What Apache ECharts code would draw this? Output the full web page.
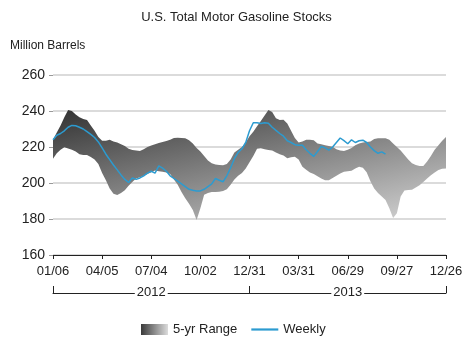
<!DOCTYPE html>
<html><head><meta charset="utf-8">
<script src="https://cdn.jsdelivr.net/npm/echarts@6/dist/echarts.min.js"></script>
<style>html,body{margin:0;padding:0;background:#fff}#c{width:473px;height:347px}</style>
</head><body><div id="c"></div>
<script>
const titleText = 'U.S. Total Motor Gasoline Stocks';
const unitText = 'Million Barrels';
const tickLabels = ['01/06','04/05','07/04','10/02','12/31','03/31','06/29','09/27','12/26'];
const years = ['2012','2013'];
const rangeUpper = [224,228,232,236.5,240.5,240,238,236.5,235.5,235,
 232,229,225.5,223.5,223.5,224,223,222.5,221.5,220.5,
 219,218.3,218,217.8,218.7,220,220.8,221.5,222.2,222.8,
 223.3,224,225,225.2,225,224.8,223.8,222,219.5,217.5,
 215,212.5,211,210.3,210,209.8,210.5,213,217,218.5,
 220,222.5,226,228.5,231.5,234.5,237.5,240.5,239.5,236,
 235,235.2,233,229,225,222.5,223,224,224,223.8,
 222,221.5,221,220.5,220.2,218.8,218,217.8,218.5,219.5,
 221,222,222.5,222.8,223,224.5,224.8,224.8,224.8,224,
 222,220,218,215.5,213,211,210,209.4,209.5,212,
 215,218.5,221,223.5,225.5];
const rangeLower = [213.5,216.5,218.5,219.8,219.2,218.5,217.5,216,215.6,215.6,
 214.5,213,210.5,205.5,201.5,197,194,193.3,194.5,196,
 198.5,200.5,202.5,203.2,204,205,206,207,206.5,206.2,
 205.8,205,202,199,195,191.5,188.5,185,179.5,186,
 193.5,194.5,195,195,195.2,195.5,196.5,199,202,204,
 205.5,208,211.5,215,219,219.3,218.7,218.3,218,217,
 216,215.3,213.7,214.3,214.6,213,209,207.3,205.8,205,
 203.8,202.5,201.5,201.5,202.8,204,205.3,206.2,206.5,206.8,
 208,209,208.5,206,201,197,194.5,192.5,190.6,186,
 180.5,183.2,192.5,195.8,196.1,196.2,197.5,198.8,200.5,202.5,
 204.3,205.8,207.2,207.9,208];
const weekly = [224,226.5,227.5,229,231,232,231.8,231,230,228.5,
 227,225.3,222.8,219.5,216,213,210,207.3,204.5,202,
 200.3,202.8,202,202.8,204,205.5,206.5,205.5,209.5,208.3,
 206.5,204,202.5,201,199.5,198,196.5,196,195.6,195.6,
 196.5,198,199.5,202.5,201.5,200.7,204,208.5,213.5,217,
 219,222.5,229,233.5,233.5,233,233.5,233.2,231,229.2,
 227.5,226,223.5,222.5,221.3,221,221,218.5,216.5,214.8,
 217.5,220.3,219.5,218.3,220,222.5,225,223.5,221.8,224,
 222.5,223.5,223.8,222.5,220,218,216.5,217.3,216];

const FONT = '"Liberation Sans", Arial, sans-serif';
const chart = echarts.init(document.getElementById('c'), null, {renderer:'canvas'});
const weekIdx = rangeUpper.map((v,i)=>String(i));
const spanData = rangeUpper.map((v,i)=>+(v - rangeLower[i]).toFixed(2));
const bandFill = new echarts.graphic.LinearGradient(0,0,0.13,2.14,[
  {offset:0,color:'rgb(50,50,50)'},{offset:1,color:'rgb(255,255,255)'}]);
const legendFill = new echarts.graphic.LinearGradient(0,0,1,0,[
  {offset:0,color:'#3a3a3a'},{offset:1,color:'#dcdcdc'}]);

chart.setOption({
  animation:false,
  backgroundColor:'#fff',
  textStyle:{fontFamily:FONT},
  title:[
    {text:titleText,left:'center',top:11,padding:0,textStyle:{fontSize:13,fontWeight:'normal',color:'#222',fontFamily:FONT}},
    {text:unitText,left:10,top:40,padding:0,textStyle:{fontSize:12,fontWeight:'normal',color:'#222',fontFamily:FONT}}
  ],
  legend:{
    left:136, top:318, itemWidth:27, itemHeight:11, itemGap:14,
    textStyle:{fontSize:13,color:'#222',fontFamily:FONT},
    data:[{name:'5-yr Range',icon:'rect',itemStyle:{color:legendFill}},
          {name:'Weekly',icon:'path://M0,0H27V2.2H0Z',itemStyle:{color:'#2c9bd0'}}]
  },
  grid:{left:53,right:27,top:75,bottom:92},
  xAxis:[{
    type:'category',data:weekIdx,boundaryGap:false,
    axisLine:{show:true,lineStyle:{color:'#222',width:1}},
    axisTick:{show:true,length:4,interval:12,lineStyle:{color:'#222'}},
    axisLabel:{fontSize:13,color:'#222',margin:10,interval:12,fontFamily:FONT,
      formatter:(v,i)=>tickLabels[Math.round(i/13)]||''},
    splitLine:{show:false}
  },{
    type:'value',min:0,max:104,interval:26,position:'bottom',offset:38,
    axisLine:{show:true,lineStyle:{color:'#222',width:1}},
    axisTick:{show:true,inside:true,length:7,customValues:[0,52,104],lineStyle:{color:'#222'}},
    axisLabel:{show:true,customValues:[26,78],fontSize:13,color:'#222',margin:-7,
      backgroundColor:'#fff',padding:[0,2],fontFamily:FONT,
      formatter:v=>years[Math.round((v-26)/52)]||''},
    splitLine:{show:false}
  }],
  yAxis:{
    type:'value',min:160,max:260,interval:20,
    axisLine:{show:false},
    axisTick:{show:true,length:4,lineStyle:{color:'#999'}},
    axisLabel:{fontSize:14,color:'#222',margin:8,fontFamily:FONT},
    splitLine:{show:true,lineStyle:{color:'#cfcfcf',width:1.5}}
  },
  series:[
    {name:'low',type:'line',stack:'band',data:rangeLower,symbol:'none',
      lineStyle:{opacity:0},silent:true,z:1},
    {name:'5-yr Range',type:'line',stack:'band',data:spanData,symbol:'none',
      lineStyle:{width:0,opacity:0},itemStyle:{color:'#555'},
      areaStyle:{color:bandFill,opacity:1},silent:true,z:2},
    {name:'Weekly',type:'line',data:weekly,symbol:'none',
      lineStyle:{color:'#2c9bd0',width:1.5},itemStyle:{color:'#2c9bd0'},z:3}
  ]
});
</script></body></html>
